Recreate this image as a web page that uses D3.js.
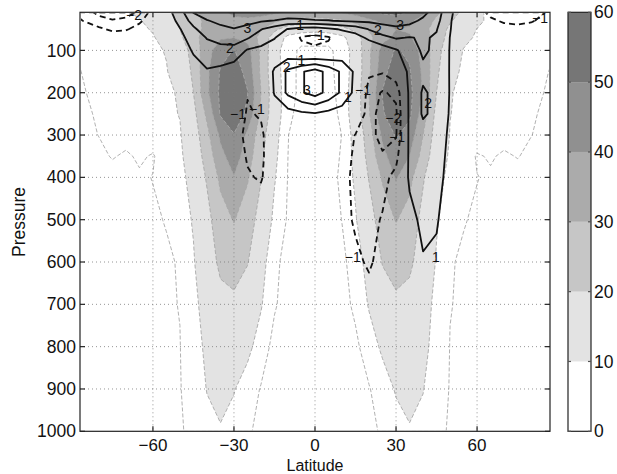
<!DOCTYPE html>
<html><head><meta charset="utf-8">
<script src="https://cdn.jsdelivr.net/npm/d3@7"></script>
<style>body{margin:0;background:#fff} text{font-family:"Liberation Sans",Arial,Helvetica,sans-serif}</style>
</head><body><svg id="c" width="617" height="474"></svg>
<script>
// ---- grid ----
const lats = [-87,-80,-75,-70,-65,-60,-55,-50,-45,-40,-35,-30,-25,-20,-15,-10,-5,0,5,10,15,20,25,30,35,40,45,50,55,60,65,70,75,80,87];
const pressures = [10,30,50,70,100,150,200,250,300,350,400,500,600,700,800,900,1000];

// ---- shaded field (rows = pressures, columns = lats) ----
const shade10   = [6.5,7,8,9.5,11,13,17,24,28,33,38,42,44,44,42,40,38,38, 39,41,44,48,52,53,50,42,32,24,18,11,9,8,7.5,7,6.5];
const shade30   = [6.5,7,7.8,8.7,9.7,11.5,15,22,27,32,36,38,38,36,32,27,25,25, 26,28,33,38,42,44,42,36,28,21,15,11,9,8,7.5,7,6.5];
const shade50   = [6.3,7,7.8,8.5,9.3,10.3,13,20,27,32,35,36,35,30,22,15,13,12, 13,16,23,31,37,40,39,33,26,18,12.5,9.9,8.8,8,7.5,7,6.5];
const shade70   = [6,7,7.8,8.3,9,9.7,11.5,18,27,34,39,40,37,27,15,8,6,6, 6,8,15,27,37,42,41,35,26,16,11,9.5,8.8,8.2,7.8,7.2,6.5];
const shade100  = [5.3,6.8,7.6,8.2,8.8,9.4,10.2,14,24,36,46,50.5,44,28,13,6,4.5,4.5, 4.5,6,13,28,44,51,48,36,24,13,9.8,9.2,8.6,8.2,7.6,6.8,5.5];
const shade150  = [4.9,6.5,7.5,8,8.5,9,9.8,12,22,38,51,55,47,28,13,6.5,4,4, 4,6.5,13,28,47,55,51,38,22,11,9.5,9,8.4,7.8,7.2,6.2,4.9];
const shade200  = [4.5,6,7,7.5,8,8.5,9.2,10.5,20,38,52,57,50.5,30,14,6.5,4,3.5, 3.5,6.5,14,30,50.5,57,53,39,20,10.3,9,8.5,8,7.5,7,6,4.5];
const shade250  = [4,5.5,6.5,7,7.5,8,9,10.2,17,32,51,56,48,28,14,6,3.5,3, 3,6,14,29,49,56,52,35,17,10.1,9,8,7.5,7,6.5,5.5,4];
const shade300  = [3.5,5.1,6,6.5,7,7.5,8.5,9.5,15,27,42,49.5,38,24,12.5,5.1,3,2.5, 2.5,5.1,12.5,25,42,51,46,30,15,9.8,8.5,7.5,7,6.5,6,5.1,3.5];
const shade350  = [3,4,5.3,4.4,5.6,4.6,7.5,9,13.5,24,37,45,35,22,11.5,5,3,2.5, 2.8,5.5,11.8,23,37,46,40,26,13.5,9.2,7.5,4.6,5.4,4.4,5.2,4,3];
const shade400  = [2.5,3,3.5,4,4.5,5.1,6.5,8.5,12,21,32,39.5,31,20.5,10.5,4.8,3,2.5, 3,6,11,20.5,31,41,33,21,12,8.5,6.5,5.1,4.5,4,3.5,3,2.5];
const shade500  = [2,2.5,3,3.5,4,4.5,5.2,7.5,10.5,17,26,30.5,25,16,8.5,4.5,2.8,2.2, 2.8,5.1,9.5,16,25,30.5,26,17,10.5,7.5,5.2,4.5,4,3.5,3,2.5,2];
const shade600  = [2,2.5,3,3.2,3.5,4,4.5,5.3,9.5,15,22,24,20.5,12.5,6,3.5,2.2,1.8, 2.2,4,7,12.5,20.5,24,22,15,9.5,5.3,4.5,4,3.5,3.2,3,2.5,2];
const shade700  = [2,2.5,2.5,3,3.5,4,4.6,5.1,8.5,12.5,17,18,14.5,10.5,5.5,3,2,1.5, 2,3.3,6,10.5,15,18,16.5,12.5,8.5,5.1,4.6,4,3.5,3,2.5,2.5,2];
const shade800  = [2,2,2.5,3,3.5,4,4.5,4.9,8,11,14,14.5,11.5,7.5,3.5,2.5,1.5,1.2, 1.5,2.5,4,7.5,11,14,14,11.5,8,4.9,4.5,4,3.5,3,2.5,2,2];
const shade900  = [1.5,1.5,2,2.5,3,3.5,4.2,4.8,7,10.2,12,10.3,7.5,4.7,3,1.8,1.2,1, 1.2,1.8,3,4.7,7.5,10.5,12,10.2,7,4.8,4.2,3.5,3,2.5,2,1.5,1.5];
const shade1000 = [1,1,1.5,2,2.5,3,3.8,4.6,6,8.5,9.5,8,5.8,3.5,2,1.2,0.8,0.6, 0.8,1.2,2,3.5,5.8,8,9.5,8.5,6,4.6,3.8,3,2.5,2,1.5,1,1];

// ---- line-contour field ----
const line10   = [-1.3,-2.3,-2.6,-2.5,-1.8,-0.6,0.6,1.6,3.05,3.4,3.6,3.8,3.8,3.9,3.9,3.8,3.7,3.8, 3.8,3.9,3.9,3.9,3.9,3.9,3.7,3.3,2.5,1.2,0.3,-0.5,-1.3,-1.5,-1.5,-1.3,-0.9];
const line30   = [-0.9,-1.6,-1.9,-1.7,-1.2,-0.3,0.4,1.3,2.4,2.95,3.2,3.4,3.2,3.1,2.95,2.7,2.8,2.9, 2.95,3.1,3.2,3.2,3.3,3.4,3.3,2.8,2.3,1.1,0.2,-0.3,-0.8,-1.15,-1.25,-1.1,-0.6];
const line50   = [-0.4,-0.8,-1.2,-1.1,-0.6,0.05,0.3,0.95,1.8,2.6,2.8,2.95,2.8,2.05,1.5,0.95,0.6,0.5, 0.8,1.1,1.4,2.05,2.6,2.8,2.6,2.4,2.05,1.05,0.2,-0.1,-0.4,-0.6,-0.7,-0.6,-0.3];
const line70   = [-0.2,-0.3,-0.4,-0.4,-0.2,0.1,0.2,0.7,1.5,2.05,2.2,2.4,2.1,1.4,1.05,0.3,-1.2,-1.6, -1.2,0.3,0.6,1.2,1.7,2.1,1.95,2.1,1.9,0.98,0.15,0.05,-0.1,-0.2,-0.2,-0.2,-0.1];
const line100  = [0,0,0,0,0,0,0.1,0.5,1.1,1.6,1.8,1.7,0.9,0.8,0.5,0.2,-0.4,-0.6, -0.4,0.2,0.3,0.2,0.5,0.9,1.5,2.15,1.8,0.95,0.1,0,0,0,0,0,0];
const line150  = [0,0,0,0,0,0,0,0.3,0.6,0.9,0.7,0.4,0.2,0.3,1.1,2.2,2.9,3.4, 2.7,1.8,0.8,-0.8,-0.9,-0.2,1.3,1.8,1.7,0.95,0,0,0,0,0,0,0];
const line200  = [0,0,0,0,0,0,0,0.1,0.2,0.4,0.3,0.1,-0.95,-0.7,1.1,2.2,2.9,3.4, 2.7,1.8,0.7,-1.5,-2.1,-1.8,1.3,2.1,1.8,0.95,0,0,0,0,0,0,0];
const line250  = [0,0,0,0,0,0,0,0,0.1,0.2,0.1,-0.3,-1.1,-0.9,0.3,0.6,0.8,0.9, 0.7,0.5,0.2,-1.6,-2.4,-2.2,1.3,2.1,1.8,0.9,0,0,0,0,0,0,0];
const line300  = [0,0,0,0,0,0,0,0,0,0.1,0,-0.5,-1.3,-1.2,-0.2,0.1,0.2,0.3, 0.2,-0.3,-1.05,-1.7,-2.3,-2.1,1.3,1.7,1.6,0.8,0,0,0,0,0,0,0];
const line350  = [0,0,0,0,0,0,0,0,0,0,0,-0.4,-1.1,-1.2,-0.3,0,0.1,0.1, 0.1,-0.5,-1.2,-1.7,-1.9,-1.4,1.25,1.6,1.5,0.7,0,0,0,0,0,0,0];
const line400  = [0,0,0,0,0,0,0,0,0,0,0,-0.3,-0.9,-1.1,-0.3,0,0,0, 0,-0.6,-1.3,-1.6,-1.4,-0.6,1.2,1.5,1.4,0.6,0,0,0,0,0,0,0];
const line500  = [0,0,0,0,0,0,0,0,0,0,0,0,-0.2,-0.3,0,0,0,0, 0,-0.5,-1.2,-1.4,-0.9,-0.2,0.6,1.3,1.1,0.4,0,0,0,0,0,0,0];
const line600  = [0,0,0,0,0,0,0,0,0,0,0,0,0,0,0,0,0,0, 0,-0.2,-0.7,-1.2,-0.5,0,0.1,0.9,0.8,0.1,0,0,0,0,0,0,0];
const line700  = [0,0,0,0,0,0,0,0,0,0,0,0,0,0,0,0,0,0, 0,0,-0.1,-0.4,-0.1,0,0,0,0,0,0,0,0,0,0,0,0];
const line800  = [0,0,0,0,0,0,0,0,0,0,0,0,0,0,0,0,0,0, 0,0,0,0,0,0,0,0,0,0,0,0,0,0,0,0,0];
const line900  = [0,0,0,0,0,0,0,0,0,0,0,0,0,0,0,0,0,0, 0,0,0,0,0,0,0,0,0,0,0,0,0,0,0,0,0];
const line1000 = [0,0,0,0,0,0,0,0,0,0,0,0,0,0,0,0,0,0, 0,0,0,0,0,0,0,0,0,0,0,0,0,0,0,0,0];

const shadeLevels = [10,20,30,40,50];
const grayLineLevels = [5,10,20,30,40,50];
const blackLevels = [-2,-1,1,2,3];
const xTicks = [-60,-30,0,30,60];
const yTicks = [100,200,300,400,500,600,700,800,900,1000];
const cbTicks = [0,10,20,30,40,50,60];

const labelText = ["\u22122","3","2","1","2","1","3","\u22121","1","\u22121","\u22121","\u22121","\u22122","\u22121","\u22121","1","2","2","3","\u22121"];
const labelLat  = [-67,-25,-31.5,-5.5,-10.5,-5,-3,0.7,12.2,-28.5,-21.5,17.8,29,30.4,14,44.8,41.9,23.3,31.5,83.3];
const labelP    = [17,47,94,40,139,123,194,64,210,250,238,194,260,305,588,588,224,52,40,23];

// ---- styles ----
const shadeColors = ["#e3e3e3","#c6c6c6","#ababab","#909090","#767676"];
const cbColors = ["#ffffff","#e3e3e3","#c6c6c6","#ababab","#909090","#767676"];

const shadeRows = [shade10,shade30,shade50,shade70,shade100,shade150,shade200,shade250,shade300,shade350,shade400,shade500,shade600,shade700,shade800,shade900,shade1000];
const lineRows = [line10,line30,line50,line70,line100,line150,line200,line250,line300,line350,line400,line500,line600,line700,line800,line900,line1000];

const L=80, R=550, T=12.3, B=431.3;
const svg = d3.select("#c");
const x = d3.scaleLinear().domain([-87,87]).range([L,R]);
const y = d3.scaleLinear().domain([10,1000]).range([T,B]);
const nx = lats.length, ny = pressures.length;

function interp(arr,t){ t=Math.max(0,Math.min(arr.length-1,t)); const i=Math.min(arr.length-2,Math.floor(t)); const f=t-i; return arr[i]+(arr[i+1]-arr[i])*f; }
const proj = d3.geoTransform({point:function(px,py){ this.stream.point(x(interp(lats,px-0.5)), y(interp(pressures,py-0.5))); }});
const path = d3.geoPath(proj);

const shadeVals = shadeRows.flat();
const lineVals = lineRows.flat();
const lineNeg = lineVals.map(v=>-v);
const contours = d3.contours().size([nx,ny]);

const defs = svg.append("defs");
defs.append("clipPath").attr("id","cf").append("rect").attr("x",L).attr("y",T).attr("width",R-L).attr("height",B-T);
defs.append("clipPath").attr("id","cl").append("rect").attr("x",L+1).attr("y",T+1).attr("width",R-L-2).attr("height",B-T-2);

svg.append("rect").attr("x",L).attr("y",T).attr("width",R-L).attr("height",B-T).attr("fill","#fff");

const gFill = svg.append("g").attr("clip-path","url(#cf)");
shadeLevels.forEach((lv,k)=>{
  gFill.append("path").attr("d",path(contours.contour(shadeVals,lv))).attr("fill",shadeColors[k]).attr("stroke","none");
});

const gGray = svg.append("g").attr("clip-path","url(#cl)");
grayLineLevels.forEach(lv=>{
  gGray.append("path").attr("d",path(contours.contour(shadeVals,lv))).attr("fill","none")
    .attr("stroke","#a8a8a8").attr("stroke-width",0.9).attr("stroke-dasharray","4,2");
});

// grid
const gGrid = svg.append("g");
xTicks.forEach(t=>{
  gGrid.append("line").attr("x1",x(t)).attr("x2",x(t)).attr("y1",T).attr("y2",B).attr("stroke","#7a7a7a").attr("stroke-width",0.8).attr("stroke-dasharray","1,3");
});
yTicks.filter(t=>t<1000).forEach(t=>{
  gGrid.append("line").attr("x1",L).attr("x2",R).attr("y1",y(t)).attr("y2",y(t)).attr("stroke","#7a7a7a").attr("stroke-width",0.8).attr("stroke-dasharray","1,3");
});

// black contours
const gBlack = svg.append("g").attr("clip-path","url(#cl)");
blackLevels.forEach(lv=>{
  const c = lv<0 ? contours.contour(lineNeg,-lv) : contours.contour(lineVals,lv);
  gBlack.append("path").attr("d",path(c)).attr("fill","none").attr("stroke","#111")
    .attr("stroke-width",1.8).attr("stroke-linejoin","round")
    .attr("stroke-dasharray", lv<0 ? "6,4" : null);
});

// contour labels
const gLab = svg.append("g");
labelText.forEach((s,i)=>{
  gLab.append("text").attr("x",x(labelLat[i])).attr("y",y(labelP[i])).attr("dy","0.35em")
    .attr("text-anchor","middle").attr("font-size",14).attr("fill","#111").text(s);
});

// frame & ticks
const gAx = svg.append("g").attr("stroke","#222").attr("stroke-width",1.2);
gAx.append("rect").attr("x",L).attr("y",T).attr("width",R-L).attr("height",B-T).attr("fill","none");
xTicks.forEach(t=>{
  gAx.append("line").attr("x1",x(t)).attr("x2",x(t)).attr("y1",B).attr("y2",B-5);
  gAx.append("line").attr("x1",x(t)).attr("x2",x(t)).attr("y1",T).attr("y2",T+5);
});
yTicks.forEach(t=>{
  gAx.append("line").attr("x1",L).attr("x2",L+5).attr("y1",y(t)).attr("y2",y(t));
  gAx.append("line").attr("x1",R-5).attr("x2",R).attr("y1",y(t)).attr("y2",y(t));
});

const fs = 17.5;
xTicks.forEach(t=>{
  svg.append("text").attr("x",x(t)).attr("y",451).attr("text-anchor","middle").attr("font-size",17).attr("fill","#111")
    .text(t<0 ? "\u2212"+Math.abs(t) : String(t));
});
yTicks.forEach(t=>{
  svg.append("text").attr("x",76).attr("y",y(t)).attr("dy","0.35em").attr("text-anchor","end").attr("font-size",fs).attr("fill","#111").text(String(t));
});
svg.append("text").attr("x",(L+R)/2).attr("y",470.5).attr("text-anchor","middle").attr("font-size",16).attr("fill","#111").text("Latitude");
svg.append("text").attr("transform","translate(25,222) rotate(-90)").attr("text-anchor","middle").attr("font-size",fs).attr("fill","#111").text("Pressure");

// colorbar
const cbL=568, cbR=591;
const yc = d3.scaleLinear().domain([0,60]).range([B,T]);
for(let i=0;i<cbTicks.length-1;i++){
  svg.append("rect").attr("x",cbL).attr("y",yc(cbTicks[i+1])).attr("width",cbR-cbL).attr("height",yc(cbTicks[i])-yc(cbTicks[i+1])).attr("fill",cbColors[i]);
}
const gCb = svg.append("g").attr("stroke","#222").attr("stroke-width",1.2);
gCb.append("rect").attr("x",cbL).attr("y",T).attr("width",cbR-cbL).attr("height",B-T).attr("fill","none");
cbTicks.forEach(t=>{
  gCb.append("line").attr("x1",cbL).attr("x2",cbL+3).attr("y1",yc(t)).attr("y2",yc(t)).attr("stroke","#555");
  gCb.append("line").attr("x1",cbR-3).attr("x2",cbR).attr("y1",yc(t)).attr("y2",yc(t)).attr("stroke","#555");
  svg.append("text").attr("x",594).attr("y",yc(t)).attr("dy","0.35em").attr("font-size",fs).attr("fill","#111").text(String(t));
});
</script></body></html>
